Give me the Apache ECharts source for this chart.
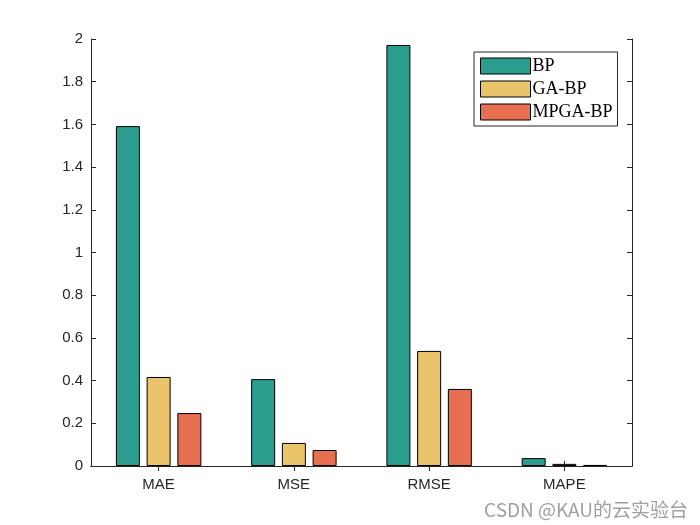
<!DOCTYPE html>
<html><head><meta charset="utf-8">
<script src="https://cdn.jsdelivr.net/npm/echarts@6/dist/echarts.min.js"></script>
<style>html,body{margin:0;padding:0;background:#fff}#c{width:700px;height:525px}</style>
</head><body><div id="c"></div>
<script>
const categories = ['MAE', 'MSE', 'RMSE', 'MAPE'];
const seriesNames = ['BP', 'GA-BP', 'MPGA-BP'];
const bpValues = [1.592, 0.407, 1.972, 0.037];
const gabpValues = [0.417, 0.108, 0.539, 0.010];
const mpgabpValues = [0.248, 0.075, 0.361, 0.005];
const yTicks = [0, 0.2, 0.4, 0.6, 0.8, 1, 1.2, 1.4, 1.6, 1.8, 2];
const colors = ['#2A9D8F', '#E9C46A', '#E76F51'];

const chart = echarts.init(document.getElementById('c'), null, {renderer: 'canvas'});
const axisLine = {show: true, lineStyle: {color: '#262626', width: 1}};
const mk = (name, data, i) => ({
  name, type: 'bar', data, barWidth: 24, barGap: '28%',
  itemStyle: {color: colors[i], borderColor: '#000', borderWidth: 1},
  xAxisIndex: 0, yAxisIndex: 0
});
chart.setOption({
  animation: false,
  grid: {left: 91, right: 68, top: 39, bottom: 59, containLabel: false},
  legend: {
    data: seriesNames, orient: 'vertical', left: 474, top: 52,
    icon: 'rect',
    itemWidth: 50, itemHeight: 16, itemGap: 5,
    padding: [5, 5, 5, 6],
    borderColor: '#262626', borderWidth: 1, backgroundColor: '#fff',
    textStyle: {fontFamily: 'Liberation Serif', fontSize: 18, color: '#000', padding: [0, 0, 0, -3]},
    itemStyle: {borderColor: '#000', borderWidth: 1}
  },
  xAxis: [
    {type: 'category', data: categories, position: 'bottom',
     axisLine, axisTick: {show: true, inside: true, alignWithLabel: true, length: 5, lineStyle: {color: '#262626'}},
     axisLabel: {fontFamily: 'Liberation Sans', fontSize: 15, color: '#262626', margin: 11}},
    {type: 'category', data: categories, position: 'top',
     axisLine, axisTick: {show: true, inside: true, alignWithLabel: true, length: 5, lineStyle: {color: '#262626'}},
     axisLabel: {show: false}}
  ],
  yAxis: [
    {type: 'value', min: 0, max: 2, interval: 0.2, position: 'left',
     axisLine, splitLine: {show: false},
     axisTick: {show: true, inside: true, length: 5, lineStyle: {color: '#262626'}},
     axisLabel: {fontFamily: 'Liberation Sans', fontSize: 15, color: '#262626', margin: 8,
       formatter: v => { const t = yTicks.find(x => Math.abs(x - v) < 1e-9); return t === undefined ? '' : String(t); }}},
    {type: 'value', min: 0, max: 2, interval: 0.2, position: 'right',
     axisLine, splitLine: {show: false},
     axisTick: {show: true, inside: true, length: 5, lineStyle: {color: '#262626'}},
     axisLabel: {show: false}}
  ],
  series: [mk(seriesNames[0], bpValues, 0), mk(seriesNames[1], gabpValues, 1), mk(seriesNames[2], mpgabpValues, 2)],
  graphic: [{type: 'text', right: 12, bottom: 6,
    style: {text: 'CSDN @KAU的云实验台', fill: '#a0a0a0', fontSize: 19, fontFamily: 'Noto Sans CJK SC'}}]
});
</script></body></html>
